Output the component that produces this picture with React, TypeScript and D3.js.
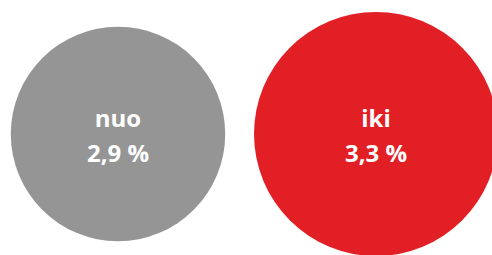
import React from "react";
import * as d3 from "d3";

const categories = ["nuo", "iki"];
const values = [2.9, 3.3];
const labels = ["2,9 %", "3,3 %"];
const colors = ["#959595", "#e31f26"];

const W = 492;
const H = 255;

export default function App() {
  const x = d3.scalePoint<string>().domain(categories).range([118, 376]);
  const r = d3.scaleLinear().domain([0, 3.3]).range([0, 122]);
  const cy = 134;
  return (
    <svg
      width={W}
      height={H}
      style={{ position: "absolute", left: 0, top: 0, display: "block" }}
    >
      {categories.map((c, i) => (
        <g key={c} transform={`translate(${x(c)},${cy})`}>
          <circle r={r(values[i])} fill={colors[i]} />
          <text
            y={-7}
            textAnchor="middle"
            fill="#fff"
            fontFamily="'Open Sans', sans-serif"
            fontWeight={700}
            fontSize={24}
          >
            {c}
          </text>
          <text
            y={28}
            textAnchor="middle"
            fill="#fff"
            fontFamily="'Open Sans', sans-serif"
            fontWeight={700}
            fontSize={24}
          >
            {labels[i]}
          </text>
        </g>
      ))}
    </svg>
  );
}
